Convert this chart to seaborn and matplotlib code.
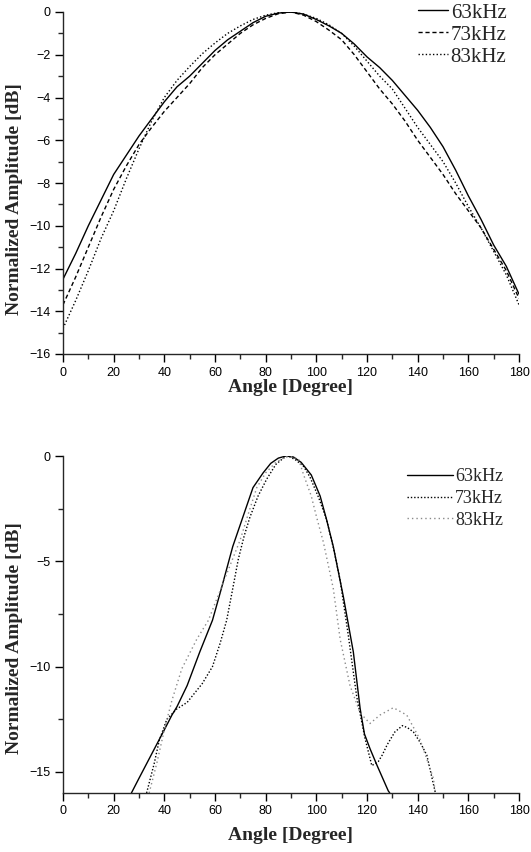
import numpy as np
import pandas as pd
import matplotlib
matplotlib.use("Agg")
import matplotlib.pyplot as plt
from matplotlib.ticker import MultipleLocator
import seaborn as sns

# ---------------- data (top panel) ----------------
top_angle = [0, 5, 10, 15, 20, 25, 30, 35, 40, 45, 50, 55, 60, 65, 70, 75, 80, 85, 90,
             95, 100, 105, 110, 115, 120, 125, 130, 135, 140, 145, 150, 155, 160, 165,
             170, 175, 180]
top_63 = [-12.5, -11.3, -10.0, -8.8, -7.6, -6.7, -5.8, -5.0, -4.2, -3.5, -3.0, -2.4, -1.8,
          -1.3, -0.9, -0.5, -0.2, -0.05, 0.0, -0.1, -0.35, -0.65, -1.0, -1.5, -2.1, -2.6,
          -3.2, -3.9, -4.6, -5.4, -6.3, -7.4, -8.6, -9.7, -10.9, -11.9, -13.2]
top_73 = [-13.7, -12.4, -11.0, -9.6, -8.3, -7.2, -6.2, -5.4, -4.65, -4.0, -3.35, -2.6, -2.0,
          -1.5, -1.0, -0.6, -0.3, -0.08, 0.0, -0.15, -0.45, -0.85, -1.3, -2.0, -2.8, -3.6,
          -4.3, -5.1, -6.0, -6.8, -7.6, -8.5, -9.3, -10.1, -11.1, -12.1, -13.4]
top_83 = [-14.8, -13.5, -12.1, -10.6, -9.3, -7.8, -6.4, -5.1, -4.0, -3.2, -2.55, -1.95, -1.45,
          -1.0, -0.65, -0.35, -0.15, -0.03, 0.0, -0.1, -0.3, -0.6, -1.0, -1.6, -2.3, -3.0,
          -3.6, -4.5, -5.4, -6.2, -7.0, -8.0, -9.1, -10.1, -11.2, -12.3, -13.7]

# ---------------- data (bottom panel) ----------------
bot_63_angle = [27, 30, 35, 40, 43, 45, 49, 54, 59, 62.5, 67, 71, 75, 79, 82, 85, 88, 91, 94,
                98, 101.5, 104, 106.7, 110.7, 114.6, 117.3, 119, 121.2, 124, 128.4, 129]
bot_63 = [-16.0, -15.3, -14.15, -13.0, -12.3, -11.9, -10.9, -9.3, -7.8, -6.3, -4.3, -2.9, -1.5,
          -0.8, -0.35, -0.1, 0.0, -0.05, -0.3, -0.9, -1.9, -3.0, -4.3, -6.7, -9.3, -12.0,
          -13.2, -13.9, -14.7, -15.9, -16.0]
bot_73_angle = [33, 36, 38, 41, 45, 49, 55, 59, 62, 64.6, 67, 69.2, 71.5, 73.8, 77, 80.4, 84,
                87, 89, 92, 95, 97.5, 101, 104, 107, 109.4, 112.6, 115.9, 119.2, 121.9, 124.5,
                126, 128, 131, 134, 136, 138.3, 141, 143.6, 145.5, 147]
bot_73 = [-16.0, -14.6, -13.5, -12.5, -12.0, -11.7, -10.8, -10.0, -8.9, -7.8, -6.3, -4.9, -3.8,
          -2.9, -1.9, -1.1, -0.4, -0.1, 0.0, -0.2, -0.5, -1.0, -2.0, -3.0, -4.5, -5.9, -8.5,
          -11.4, -13.4, -14.7, -14.5, -14.2, -13.7, -13.1, -12.8, -12.9, -13.1, -13.6,
          -14.2, -15.2, -16.0]
bot_83_angle = [34, 37, 40, 43, 46.9, 52.8, 57.4, 61, 64.6, 69.9, 73, 76.5, 80, 84, 88, 90, 93,
                95, 98, 100.1, 102.8, 106.7, 109.4, 113.3, 117.3, 121.2, 125.1, 130.4, 135.7,
                140.9, 146.2, 147]
bot_83 = [-16.0, -14.6, -13.0, -11.6, -10.1, -8.7, -7.8, -6.7, -5.6, -4.0, -2.8, -1.5, -0.8,
          -0.3, -0.03, 0.0, -0.15, -0.9, -1.9, -2.9, -4.1, -6.3, -8.7, -10.9, -12.2, -12.7,
          -12.3, -11.95, -12.3, -13.45, -15.3, -16.0]

labels = ["63kHz", "73kHz", "83kHz"]
xticks = [0, 20, 40, 60, 80, 100, 120, 140, 160, 180]

sns.set_style("ticks")
plt.rcParams["font.family"] = ["Liberation Sans", "DejaVu Sans"]
plt.rcParams["axes.linewidth"] = 1.0

fig = plt.figure(figsize=(5.31, 8.52), dpi=100)
W, H = 531, 852
ax1 = fig.add_axes([63 / W, 1 - 354 / H, 456 / W, 342 / H])
ax2 = fig.add_axes([63 / W, 1 - 793 / H, 456 / W, 337 / H])

# top panel
sns.lineplot(x=top_angle, y=top_63, ax=ax1, color="black", lw=1.0, label=labels[0],
             sort=False, estimator=None)
sns.lineplot(x=top_angle, y=top_73, ax=ax1, color="black", lw=1.0, label=labels[1],
             sort=False, estimator=None)
sns.lineplot(x=top_angle, y=top_83, ax=ax1, color="black", lw=1.0, label=labels[2],
             sort=False, estimator=None)
ax1.lines[1].set_dashes((3.0, 2.0))
ax1.lines[2].set_dashes((1.0, 1.6))

# bottom panel
sns.lineplot(x=bot_63_angle, y=bot_63, ax=ax2, color="black", lw=1.0, label=labels[0],
             sort=False, estimator=None)
sns.lineplot(x=bot_73_angle, y=bot_73, ax=ax2, color="black", lw=1.0, label=labels[1],
             sort=False, estimator=None)
sns.lineplot(x=bot_83_angle, y=bot_83, ax=ax2, color="#8a8a8a", lw=1.0, label=labels[2],
             sort=False, estimator=None)
ax2.lines[1].set_dashes((1.0, 1.4))
ax2.lines[2].set_dashes((1.0, 2.2))

for ax in (ax1, ax2):
    ax.set_xlim(0, 180)
    ax.set_ylim(-16, 0)
    ax.set_xticks(xticks)
    ax.xaxis.set_minor_locator(MultipleLocator(10))
    ax.tick_params(axis="both", which="major", direction="out", length=6, width=1.0,
                   labelsize=9, pad=3, colors="black")
    ax.tick_params(axis="both", which="minor", direction="out", length=3.5, width=1.0)
    sns.despine(ax=ax)
    ax.set_xlabel("Angle [Degree]", family=["Liberation Serif"], fontweight="bold",
                  fontsize=14)
    ax.set_ylabel("Normalized Amplitude [dB]", family=["Liberation Serif"],
                  fontweight="bold", fontsize=14)
    ax.yaxis.label.set_va("center")
    ax.xaxis.label.set_va("center")

ax1.set_yticks([0, -2, -4, -6, -8, -10, -12, -14, -16])
ax1.yaxis.set_minor_locator(MultipleLocator(1))
ax2.set_yticks([0, -5, -10, -15])
ax2.yaxis.set_minor_locator(MultipleLocator(2.5))

ax1.yaxis.set_label_coords((14.5 - 63) / 456, 0.453)
ax1.xaxis.set_label_coords(0.5, (354 - 387) / 342)
ax2.yaxis.set_label_coords((14.5 - 63) / 456, 0.46)
ax2.xaxis.set_label_coords(0.5, (793 - 835) / 337)

ax1.legend(loc="upper left", bbox_to_anchor=(418 / W, 1 - 3 / H),
           bbox_transform=fig.transFigure, frameon=False, borderpad=0, borderaxespad=0,
           handlelength=1.45, handletextpad=0.12, labelspacing=0.12,
           prop={"family": "Liberation Serif", "size": 15})
ax2.legend(loc="upper left", bbox_to_anchor=(407 / W, 1 - 468 / H),
           bbox_transform=fig.transFigure, frameon=False, borderpad=0, borderaxespad=0,
           handlelength=2.55, handletextpad=0.12, labelspacing=0.27,
           prop={"family": "Liberation Serif", "size": 13})

fig.savefig("out.png", dpi=100)
